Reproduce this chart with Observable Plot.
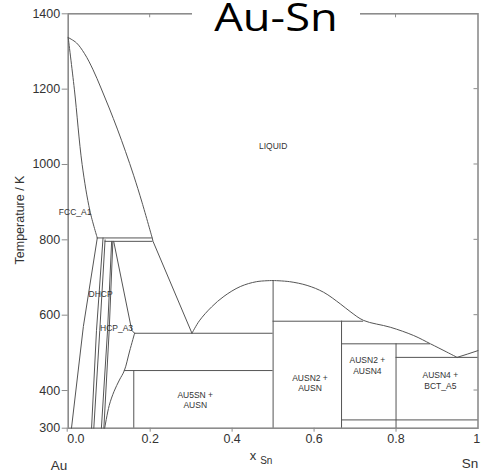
<!DOCTYPE html>
<html>
<head>
<meta charset="utf-8">
<script src="https://cdn.jsdelivr.net/npm/d3@7"></script>
<script src="https://cdn.jsdelivr.net/npm/@observablehq/plot@0.6"></script>
<style>
  html, body { margin: 0; padding: 0; background: white; }
  #wrap { position: relative; width: 481px; height: 475px; overflow: hidden; }
  #title {
    position: absolute; left: 192px; top: 0px; width: 168px; height: 22px;
    background: white;
  }
  #title span {
    position: absolute; left: 0; width: 168px; top: -4px; text-align: center;
    font-family: "Open Sans", sans-serif; font-size: 39px; line-height: 39px;
    color: #000; transform: scaleX(1.16); transform-origin: 84px 0;
    white-space: nowrap;
  }
</style>
</head>
<body>
<div id="wrap"><div id="title"><span>Au-Sn</span></div></div>
<script>
// ---- data (x_Sn, T/K) ----
const xTicks = [0, 0.2, 0.4, 0.6, 0.8, 1.0];
const yTicks = [300, 400, 600, 800, 1000, 1200, 1400];

const liquidusAu = [[0,1337],[0.02,1323],[0.04,1294],[0.06,1253],[0.08,1203],[0.10,1150],[0.12,1094],[0.14,1034],[0.16,970],[0.18,900],[0.205,805]];
const solidusFcc = [[0,1337],[0.015,1200],[0.034,1000],[0.053,877],[0.071,805]];
const solvusFcc = [[0.071,805],[0.037,570],[0.008,300]];
const dhcpLeft = [[0.085,805],[0.069,559],[0.057,300]];
const dhcpRight = [[0.090,800],[0.077,559],[0.0625,300]];
const hcpInnerA = [[0.106,796],[0.096,559],[0.081,300]];
const hcpInnerB = [[0.109,796],[0.100,559],[0.087,300]];
const hcpUpper = [[0.111,796],[0.155,560],[0.162,552]];
const hcpLower = [[0.162,552],[0.150,505],[0.137,453],[0.125,428],[0.112,398],[0.100,360],[0.089,300]];
const hcpLiquidus = [[0.205,805],[0.207,796],[0.302,552]];
const liquidusMid = [[0.302,552],[0.32,585],[0.35,622],[0.38,650],[0.42,676],[0.46,689],[0.5,692]];
const liquidusRight = [[0.5,692],[0.54,689],[0.583,679],[0.623,661],[0.664,630],[0.69,608],[0.721,586],[0.786,568],[0.843,546],[0.884,524],[0.924,502],[0.949,488]];
const liquidusSn = [[0.949,488],[0.975,497],[1.0,506]];

// horizontal invariant lines: [x1, x2, T]
const horizontals = [[0.071,0.205,805],[0.090,0.207,796],[0.162,0.5,552],[0.137,0.5,453],[0.5,0.721,584],[0.667,0.884,524],[0.8,1.0,488],[0.667,1.0,322]];
// compound lines: [x, T1, T2]
const verticals = [[0.16,300,453],[0.5,300,692],[0.667,300,584],[0.8,300,524]];

const phaseNames = ["LIQUID","FCC_A1","DHCP","HCP_A3","AU5SN +\nAUSN","AUSN2 +\nAUSN","AUSN2 +\nAUSN4","AUSN4 +\nBCT_A5"];
const phaseX = [0.5, 0.017, 0.079, 0.118, 0.31, 0.59, 0.73, 0.908];
const phaseT = [1050, 875, 657, 568, 376, 421, 468, 428];
const phaseLabels = phaseNames.map((t, i) => ({text: t, x: phaseX[i], T: phaseT[i]}));

const curves = [liquidusAu, solidusFcc, solvusFcc, dhcpLeft, dhcpRight, hcpInnerA, hcpInnerB, hcpUpper, hcpLower, hcpLiquidus, liquidusMid, liquidusRight, liquidusSn];

const lineColor = "#555";
const font = "'Liberation Sans', Arial, sans-serif";

const plot = Plot.plot({
  width: 481, height: 475,
  marginLeft: 67.7, marginRight: 3.5, marginTop: 13.3, marginBottom: 47.3,
  style: {fontFamily: font, fontSize: "12.5px", color: "#333", background: "white", overflow: "visible"},
  x: {domain: [0, 1]},
  y: {domain: [300, 1400]},
  marks: [
    Plot.frame({stroke: "#8c8c8c", strokeWidth: 1.6}),
    Plot.axisX(xTicks.slice(1, -1), {tickSize: 4, tickPadding: 2, tickFormat: d => d.toFixed(1), label: null, stroke: "#8c8c8c", fill: "#333", fontSize: 12.5}),
    Plot.axisX([0], {tickSize: 4, tickPadding: 2, tickFormat: d => d.toFixed(1), label: null, stroke: "#8c8c8c", fill: "#333", fontSize: 12.5, textAnchor: "start", dx: -1}),
    Plot.axisX([1], {tickSize: 4, tickPadding: 2, tickFormat: d => d.toFixed(1), label: null, stroke: "#8c8c8c", fill: "#333", fontSize: 12.5, dx: 4}),
    Plot.axisY(yTicks, {tickSize: 6, tickPadding: 2, tickFormat: d => String(d), label: null, stroke: "#8c8c8c", fill: "#333", fontSize: 12.5}),
    ...curves.map(c => Plot.line(c, {x: d => d[0], y: d => d[1], stroke: lineColor, strokeWidth: 1, curve: c.length > 3 ? "catmull-rom" : "linear"})),
    Plot.ruleY(horizontals, {x1: d => d[0], x2: d => d[1], y: d => d[2], stroke: lineColor, strokeWidth: 1}),
    Plot.ruleX(verticals, {x: d => d[0], y1: d => d[1], y2: d => d[2], stroke: lineColor, strokeWidth: 1}),
    Plot.text(phaseLabels, {x: "x", y: "T", text: "text", fontSize: 8.5, lineHeight: 1.25, fill: "#333", fontFamily: font})
  ]
});

const wrap = document.getElementById("wrap");
wrap.insertBefore(plot, wrap.firstChild);

const sx = plot.scale("x"), sy = plot.scale("y");
const svg = d3.select(plot);
const deco = svg.append("g").attr("stroke", "#8c8c8c").attr("stroke-width", 1);
// mirrored inward ticks on top and right edges
deco.selectAll("line.t").data(xTicks.slice(1, -1)).join("line")
  .attr("x1", d => sx.apply(d)).attr("x2", d => sx.apply(d))
  .attr("y1", sy.apply(1400)).attr("y2", sy.apply(1400) + 4);
deco.selectAll("line.r").data(yTicks.slice(1, -1)).join("line")
  .attr("y1", d => sy.apply(d)).attr("y2", d => sy.apply(d))
  .attr("x1", sx.apply(1)).attr("x2", sx.apply(1) - 4);

const txt = svg.append("g").attr("font-family", font).attr("fill", "#333");
// y-axis title
txt.append("text").attr("transform", "translate(24,220) rotate(-90)")
  .attr("text-anchor", "middle").attr("font-size", 12.5).text("Temperature / K");
// x-axis title with subscript
const xl = txt.append("text").attr("x", 261).attr("y", 460).attr("font-size", 13);
xl.append("tspan").text("x");
xl.append("tspan").attr("dx", 4).attr("dy", 4).attr("font-size", 10).text("Sn");
// component names
txt.append("text").attr("x", 59).attr("y", 470).attr("font-size", 13.5).text("Au");
txt.append("text").attr("x", 470).attr("y", 468).attr("font-size", 13.5).text("Sn");
</script>
</body>
</html>
